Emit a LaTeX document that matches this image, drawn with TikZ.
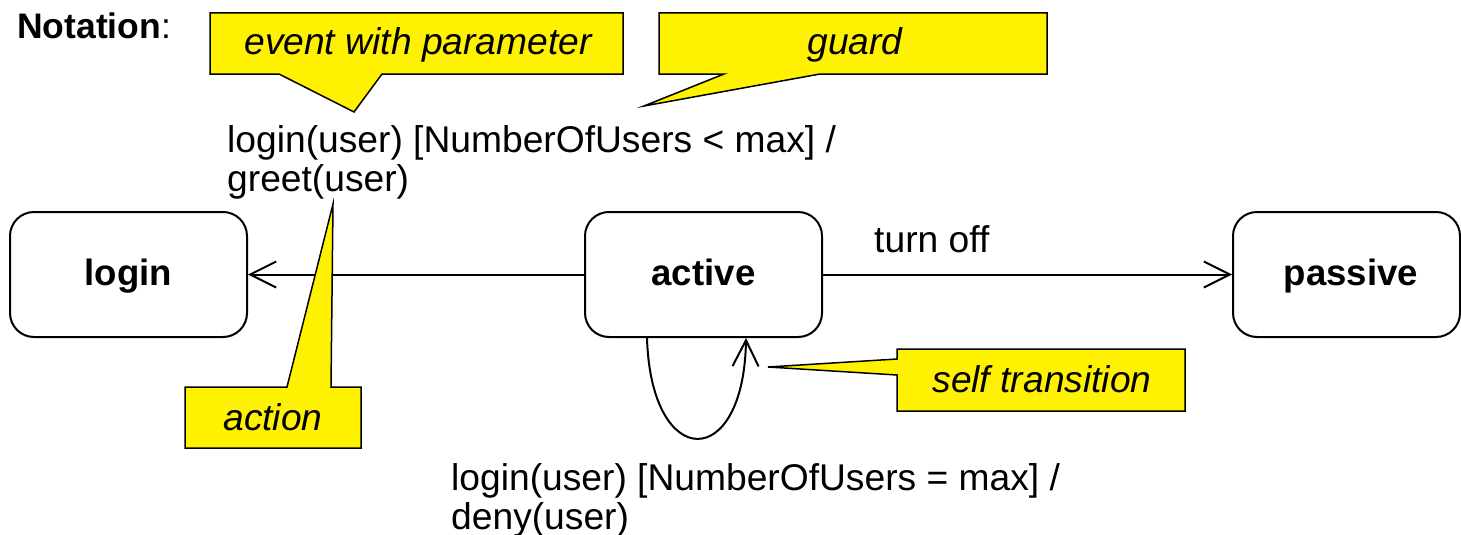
\documentclass[tikz,border=0pt]{standalone}
\usepackage{fontspec}
\setmainfont{Liberation Sans}
\usetikzlibrary{arrows.meta,calc}
\begin{document}
\begin{tikzpicture}[x=1pt,y=-1pt,
  every node/.style={font=\fontsize{37.2}{39}\selectfont, inner sep=0pt},
  state/.style={draw, line width=2pt, rounded corners=24pt,
    minimum width=237pt, minimum height=125pt,
    font=\fontsize{36.6}{39}\selectfont\bfseries, text height=27pt, text depth=5pt},
  trans/.style={line width=2pt, -{Straight Barb[length=26pt,width=26pt,line width=2pt]}},
  callout/.style={fill=yellow, draw=black, line width=1.5pt, line join=miter},
  note/.style={font=\fontsize{37.2}{39}\selectfont\itshape, anchor=base},
  lbl/.style={anchor=base west}
]
\useasboundingbox (0,0) rectangle (1461,535);

% heading
\node[lbl, font=\fontsize{35.5}{39}\selectfont] (notation) at (17,39) {\textbf{Notation}:};

% states
\node[state] (login)   at (128.5,274.5) {login};
\node[state] (active)  at (703.5,274.5) {active};
\node[state, minimum width=227pt] (passive) at (1346.5,274.5) {\hspace*{9pt}passive};

% transitions
\draw[trans] (active.west) -- (login.east);
\draw[trans] (active.east) -- node[pos=0.266, anchor=base, yshift=22pt] (turnoff) {turn off} (passive.west);
\draw[trans] ([xshift=-56.5pt]active.south) .. controls +(4,134) and +(-2,134) .. ([xshift=42.5pt]active.south);

% transition labels
\node[lbl] (greetlbl) at (227,152)
  {\begin{tabular}[t]{@{}l@{}}login(user) [NumberOfUsers < max] /\\ greet(user)\end{tabular}};
\node[lbl] (denylbl) at (451,490)
  {\begin{tabular}[t]{@{}l@{}}login(user) [NumberOfUsers = max] /\\ deny(user)\end{tabular}};

% callouts
\filldraw[callout] (210,13) -- (623,13) -- (623,74) -- (382,74) -- (354,112) -- (279,74) -- (210,74) -- cycle;
\node[note] (evtnote) at (418,55) {event with parameter};

\filldraw[callout] (659,13) -- (1047,13) -- (1047,74) -- (820,74) -- (644,106) -- (724,74) -- (659,74) -- cycle;
\node[note] (guardnote) at (855,55) {guard};

\filldraw[callout] (185,387) -- (287,387) -- (333,204) -- (331,387) -- (361,387) -- (361,448) -- (185,448) -- cycle;
\node[note] (actionnote) at (273,430) {action};

\filldraw[callout] (897,349) -- (1185,349) -- (1185,411) -- (897,411) -- (897,375) -- (768,367) -- (897,359) -- cycle;
\node[note] (selfnote) at (1042,392) {self transition};
\end{tikzpicture}
\end{document}
